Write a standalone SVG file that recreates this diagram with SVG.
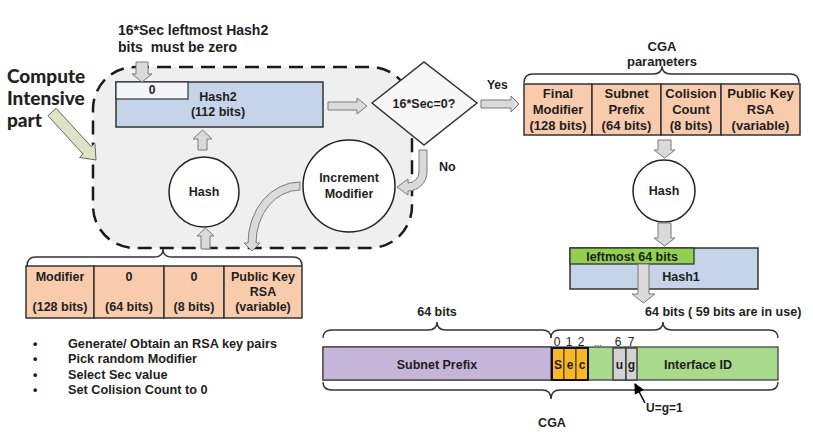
<svg xmlns="http://www.w3.org/2000/svg" width="813" height="441" viewBox="0 0 813 441">
<style>
  text { font-family: "Liberation Sans", Arial, sans-serif; font-weight: bold; fill: #1e1e1e; }
  .c { text-anchor: middle; }
  .t13 { font-size: 13px; }
  .t125 { font-size: 12.5px; }
  .t12 { font-size: 12px; }
  .reg { font-weight: normal; }
  .big { font-family: Lato, "Open Sans", sans-serif; font-size: 19px; font-weight: 900; fill: #222; }
  .blk { fill: #dadada; stroke: #7a7a7a; stroke-width: 1; }
  .cell { fill: #f8cbad; stroke: #333; stroke-width: 1.5; }
  .blue { fill: #c5d4e8; stroke: #333; stroke-width: 1.5; }
  .brace { fill: none; stroke: #333; stroke-width: 1.4; }
  .circ { fill: #fff; stroke: #222; stroke-width: 1.5; }
</style>
<defs>
  <marker id="ah" viewBox="0 0 10 10" refX="9" refY="5" markerWidth="8" markerHeight="6.5" orient="auto">
    <path d="M0,0 L10,5 L0,10 Z" fill="#000"/>
  </marker>
</defs>

<g id="compute-region">
  <rect x="93" y="67" width="319" height="181" rx="42" ry="42" fill="#efefef" stroke="#1a1a1a" stroke-width="2.5" stroke-dasharray="14 8"/>
</g>

<g id="label-compute">
  <text class="big" x="7" y="83">Compute</text>
  <text class="big" x="7" y="105">Intensive</text>
  <text class="big" x="7" y="127">part</text>
</g>

<g id="label-top">
  <text class="t13" x="118" y="35" style="font-size:14px">16*Sec leftmost Hash2</text>
  <text class="t13" x="118" y="52" style="font-size:14px;white-space:pre">bits  must be zero</text>
</g>

<g id="hash2">
  <rect class="blue" x="116" y="82" width="207" height="45"/>
  <rect x="116" y="82" width="72" height="17" fill="#f3f5f9" stroke="#333" stroke-width="1.2"/>
  <text class="t12 c" x="152" y="94">0</text>
  <text class="t125 c" x="218" y="101">Hash2</text>
  <text class="t125 c" x="218" y="116">(112 bits)</text>
</g>

<g id="decision">
  <polygon points="372,103 424,62 477,103 424,145" fill="#f7f7f7" stroke="#333" stroke-width="1.5"/>
  <text class="t125 c" x="424" y="108">16*Sec=0?</text>
</g>

<g id="hash-left">
  <circle class="circ" cx="204" cy="192" r="35"/>
  <text class="t125 c" x="204" y="196">Hash</text>
</g>

<g id="increment-modifier">
  <circle class="circ" cx="349" cy="186" r="46"/>
  <text class="t125 c" x="349" y="182">Increment</text>
  <text class="t125 c" x="349" y="198">Modifier</text>
</g>

<g id="input-params">
  <path class="brace" d="M27,266 Q27,257 36,257 L154,257 Q163,257 163,249 Q163,257 172,257 L293,257 Q302,257 302,266"/>
  <rect class="cell" x="26" y="266" width="68" height="52"/>
  <rect class="cell" x="94" y="266" width="70" height="52"/>
  <rect class="cell" x="164" y="266" width="60" height="52"/>
  <rect class="cell" x="224" y="266" width="78" height="52"/>
  <text class="t125 c" x="60" y="281">Modifier</text>
  <text class="t125 c" x="60" y="311">(128 bits)</text>
  <text class="t125 c" x="129" y="281">0</text>
  <text class="t125 c" x="129" y="311">(64 bits)</text>
  <text class="t125 c" x="194" y="281">0</text>
  <text class="t125 c" x="194" y="311">(8 bits)</text>
  <text class="t125 c" x="263" y="281">Public Key</text>
  <text class="t125 c" x="263" y="296">RSA</text>
  <text class="t125 c" x="263" y="311">(variable)</text>
</g>

<g id="steps">
  <text class="t125" x="33" y="348">•</text>
  <text class="t125" x="33" y="363">•</text>
  <text class="t125" x="33" y="379">•</text>
  <text class="t125" x="33" y="394">•</text>
  <text class="t125" x="68" y="347.5" style="font-size:12.7px">Generate/ Obtain an RSA key pairs</text>
  <text class="t125" x="68" y="362.5" style="font-size:12.7px">Pick random Modifier</text>
  <text class="t125" x="68" y="378.5" style="font-size:12.7px">Select Sec value</text>
  <text class="t125" x="68" y="393.5" style="font-size:12.7px">Set Colision Count to 0</text>
</g>

<g id="cga-parameters">
  <text class="t13 c" x="662" y="51">CGA</text>
  <text class="t13 c" x="662" y="65.5">parameters</text>
  <path class="brace" d="M524,83 Q524,74 533,74 L653,74 Q662,74 662,66 Q662,74 671,74 L790,74 Q799,74 799,83"/>
  <rect class="cell" x="524" y="84" width="68" height="51"/>
  <rect class="cell" x="592" y="84" width="69" height="51"/>
  <rect class="cell" x="661" y="84" width="60" height="51"/>
  <rect class="cell" x="721" y="84" width="79" height="51"/>
  <text class="t13 c" x="558" y="97.5">Final</text>
  <text class="t13 c" x="558" y="113.5">Modifier</text>
  <text class="t13 c" x="558" y="129.5">(128 bits)</text>
  <text class="t13 c" x="626.5" y="97.5">Subnet</text>
  <text class="t13 c" x="626.5" y="113.5">Prefix</text>
  <text class="t13 c" x="626.5" y="129.5">(64 bits)</text>
  <text class="t13 c" x="691" y="97.5">Colision</text>
  <text class="t13 c" x="691" y="113.5">Count</text>
  <text class="t13 c" x="691" y="129.5">(8 bits)</text>
  <text class="t13 c" x="760.5" y="97.5">Public Key</text>
  <text class="t13 c" x="760.5" y="113.5">RSA</text>
  <text class="t13 c" x="760.5" y="129.5">(variable)</text>
</g>

<g id="hash-right">
  <circle class="circ" cx="664" cy="191" r="31"/>
  <text class="t125 c" x="664" y="195">Hash</text>
</g>

<g id="hash1">
  <rect class="blue" x="570" y="248" width="188" height="41"/>
  <rect x="570" y="248" width="124" height="16" fill="#92d050" stroke="#333" stroke-width="1.3"/>
  <text class="t125 c" x="632" y="261">leftmost 64 bits</text>
  <text class="t125 c" x="681" y="280.5">Hash1</text>
</g>

<g id="cga-address">
  <text class="t125 c" x="437" y="316">64 bits</text>
  <text class="t125" x="645" y="316">64 bits ( 59 bits are in use)</text>
  <path class="brace" d="M323,338 Q323,330 332,330 L428,330 Q437,330 437,322 Q437,330 446,330 L542,330 Q551,330 551,338"/>
  <path class="brace" d="M551,338 Q551,330 560,330 L654,330 Q663,330 663,322 Q663,330 672,330 L769,330 Q778,330 778,338"/>
  <rect x="323" y="347" width="455" height="33" fill="#a9d98d" stroke="#444" stroke-width="1.3"/>
  <rect x="323" y="347" width="228" height="33" fill="#c5b5d8" stroke="#444" stroke-width="1.3"/>
  <rect x="552" y="348" width="12" height="32" fill="#f9b625" stroke="#333" stroke-width="1"/>
  <rect x="564" y="348" width="12" height="32" fill="#f9b625" stroke="#333" stroke-width="1"/>
  <rect x="576" y="348" width="12" height="32" fill="#f9b625" stroke="#333" stroke-width="1"/>
  <rect x="552" y="348" width="36" height="32" fill="none" stroke="#111" stroke-width="2"/>
  <rect x="613" y="348" width="13" height="32" fill="#d2d2d2" stroke="#333" stroke-width="1.3"/>
  <rect x="626" y="348" width="11" height="32" fill="#d2d2d2" stroke="#333" stroke-width="1.3"/>
  <text class="t12 reg c" x="557" y="345.5">0</text>
  <text class="t12 reg c" x="569" y="345.5">1</text>
  <text class="t12 reg c" x="581" y="345.5">2</text>
  <text class="t12 reg c" x="598" y="345.5" style="font-size:9px">...</text>
  <text class="t12 reg c" x="618" y="345.5">6</text>
  <text class="t12 reg c" x="631" y="345.5">7</text>
  <text class="t12 c" x="558" y="368.5">S</text>
  <text class="t12 c" x="570" y="368.5">e</text>
  <text class="t12 c" x="582" y="368.5">c</text>
  <text class="t12 c" x="619.5" y="368.5">u</text>
  <text class="t12 c" x="631.5" y="368.5">g</text>
  <text class="t125 c" x="437" y="368.5">Subnet Prefix</text>
  <text class="t125 c" x="698" y="368.5">Interface ID</text>
  <path class="brace" d="M323,382 Q323,390 332,390 L542,390 Q551,390 551,399 Q551,390 560,390 L769,390 Q778,390 778,382"/>
  <text class="t125 c" x="552" y="427">CGA</text>
  <text class="t12" x="646" y="412">U=g=1</text>
</g>

<g id="connectors">
  <polygon points="56.1,108.3 91.3,146.7 94.9,143.3 96,160 79.5,157.5 83.1,154.1 47.9,115.7" fill="#dfe3c6" stroke="#666" stroke-width="1"/>
  <polygon class="blk" points="136,62 148,62 148,74 152,74 142,82 132,74 136,74"/>
  <polygon class="blk" points="328,102 357,102 357,98 367,106 357,114 357,110 328,110"/>
  <polygon class="blk" points="198,150 207,150 207,139 212,139 202.5,130 193,139 198,139"/>
  <polygon class="blk" points="201,249 210,249 210,236 214,236 205.5,228 197,236 201,236"/>
  <path class="blk" d="M300,182 A52,61 0 0 0 248,243 L244,243 L252,251 L260,243 L256,243 A44,53 0 0 1 300,190 Z"/>
  <path class="blk" d="M419,150 L427,150 L427,172 A19,19 0 0 1 408,191 L408,195 L397,187 L408,179 L408,183 A11,11 0 0 0 419,172 Z"/>
  <text class="t125" x="439" y="171">No</text>
  <polygon class="blk" points="481,100 511,100 511,96 519,104 511,112 511,108 481,108"/>
  <text class="t12" x="487" y="89">Yes</text>
  <polygon class="blk" points="658,140 671,140 671,150 675,150 664.5,158 654,150 658,150"/>
  <polygon class="blk" points="658,223 671,223 671,238 675,238 664.5,246 654,238 658,238"/>
  <polygon class="blk" points="638,264 649,264 649,294 655,294 643.5,303 632,294 638,294"/>
  <line x1="645" y1="403" x2="635" y2="384" stroke="#000" stroke-width="1.6" marker-end="url(#ah)"/>
</g>
</svg>
